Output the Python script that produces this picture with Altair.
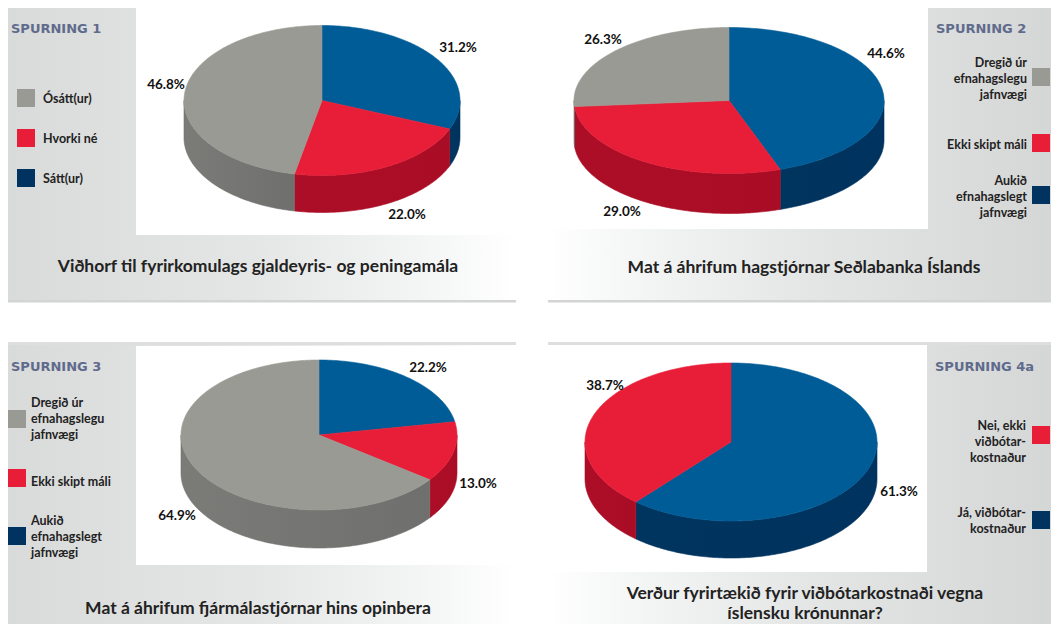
import math
import altair as alt
import pandas as pd

# ---- values ----
titles = [["Viðhorf til fyrirkomulags gjaldeyris- og peningamála"],
          ["Mat á áhrifum hagstjórnar Seðlabanka Íslands"],
          ["Mat á áhrifum fjármálastjórnar hins opinbera"],
          ["Verður fyrirtækið fyrir viðbótarkostnaði vegna", "íslensku krónunnar?"]]
questions = ["SPURNING 1", "SPURNING 2", "SPURNING 3", "SPURNING 4a"]
shares_1 = [31.2, 22.0, 46.8]
shares_2 = [44.6, 29.0, 26.3]
shares_3 = [22.2, 13.0, 64.9]
shares_4 = [61.3, 38.7]

legend_1 = [("gray", ["Ósátt(ur)"]), ("red", ["Hvorki né"]), ("blue", ["Sátt(ur)"])]
legend_2 = [("gray", ["Dregið úr", "efnahagslegu", "jafnvægi"]), ("red", ["Ekki skipt máli"]),
            ("blue", ["Aukið", "efnahagslegt", "jafnvægi"])]
legend_3 = legend_2
legend_4 = [("red", ["Nei, ekki", "viðbótar-", "kostnaður"]), ("blue", ["Já, viðbótar-", "kostnaður"])]

# ---- styling and layout ----
TOP = {"blue": "#005c97", "red": "#e81e38", "gray": "#9a9a94"}
SIDE = {"blue": ("#00335f", "#00355f"), "red": ("#a90d25", "#ad0e27"), "gray": ("#6f706d", "#7b7c78")}
SWATCH = {"blue": "#00335f", "red": "#e81e38", "gray": "#9a9a94"}
FONT = "Lato"

pies = [
    dict(shares=shares_1, cx=322, cy=100.5, rx=138, ry=75, d=37,
         pct=[(458, 47), (407, 214), (166, 84)]),
    dict(shares=shares_2, cx=729, cy=100.5, rx=155, ry=73, d=40,
         pct=[(886, 53), (622, 211), (603, 39)]),
    dict(shares=shares_3, cx=319, cy=435, rx=138, ry=75, d=38,
         pct=[(428, 367), (478, 483), (177, 515)]),
    dict(shares=shares_4, cx=731, cy=442, rx=146, ry=79, d=37,
         pct=[(899, 491), (605, 385)]),
]

BOTTOM = 624
RIGHT_EDGE = 1051
X = alt.Scale(domain=[8, RIGHT_EDGE], nice=False, zero=False)
Y = alt.Scale(domain=[BOTTOM, 8], nice=False, zero=False)


def xq(f):
    return alt.X(f, type="quantitative", scale=X, axis=None)


def yq(f):
    return alt.Y(f, type="quantitative", scale=Y, axis=None)


def box(x0, x1, y0, y1, color):
    df = pd.DataFrame({"x": [x0], "x2": [x1], "y": [y0], "y2": [y1]})
    return alt.Chart(df).mark_rect(color=color, strokeWidth=0).encode(
        x=xq("x"), x2="x2", y=yq("y"), y2="y2")


def grad(stops):
    return alt.Gradient(gradient="linear", x1=0, x2=1, y1=0, y2=0,
                        stops=[alt.GradientStop(offset=o, color=c) for o, c in stops])


layers = []

LEFT = [(0, "#d9dada"), (0.5, "#e5e6e6"), (0.8, "#f3f4f4"), (1, "#ffffff")]
RIGHT = [(0, "#ffffff"), (0.2, "#f3f4f4"), (0.5, "#e5e6e6"), (1, "#d5d6d6")]
panels = [
    (8, 516, 8, 300, LEFT, 136, 516, 8, 235, 301),
    (548, RIGHT_EDGE, 8, 300, RIGHT, 548, 928, 8, 229, 301),
    (8, 516, 345, BOTTOM, LEFT, 136, 516, 346, 565, None),
    (548, RIGHT_EDGE, 345, BOTTOM, RIGHT, 548, 927, 345, 572, None),
]
for x0, x1, y0, y1, stops, wx0, wx1, wy0, wy1, rule_y in panels:
    layers.append(box(x0, x1, y0, y1, grad(stops)))
    layers.append(box(wx0, wx1, wy0, wy1, "#ffffff"))
    if y0 > 8:
        layers.append(box(x0, x1, y0 - 3, y0, "#dededf"))
    if rule_y:
        layers.append(box(x0, x1, rule_y - 1, rule_y + 1.5, "#d3d4d4"))


def arc_points(a0, a1, step=1.0):
    n = max(2, int(abs(a1 - a0) / step) + 1)
    return [a0 + (a1 - a0) * i / n for i in range(n + 1)]


def polygon(points, fill, stroke):
    df = pd.DataFrame(points, columns=["x", "y"])
    df["i"] = range(len(df))
    return alt.Chart(df).mark_line(fill=fill, stroke=stroke, strokeWidth=0.6,
                                   interpolate="linear").encode(
        x=xq("x"), y=yq("y"), order=alt.Order("i:Q"))


text_rows = []
for p in pies:
    cx, cy, rx, ry, d = p["cx"], p["cy"], p["rx"], p["ry"], p["d"]
    total = sum(p["shares"])
    kinds_here = ["blue", "red", "gray"] if len(p["shares"]) == 3 else ["blue", "red"]

    def pt(angle, dy=0):
        t = math.radians(angle)
        return (cx + rx * math.sin(t), cy - ry * math.cos(t) + dy)

    start = 0.0
    wedges = []
    for v, k in zip(p["shares"], kinds_here):
        end = start + 360 * v / total
        wedges.append((start, end, k))
        start = end
    # sides first, only the part that faces the viewer
    for a0, a1, k in wedges:
        lo, hi = max(a0, 90), min(a1, 270)
        if hi > lo:
            arc = [pt(a) for a in arc_points(lo, hi)]
            under = [pt(a, d) for a in arc_points(hi, lo)]
            c0, c1 = SIDE[k]
            layers.append(polygon(arc + under + [arc[0]], grad([(0, c1), (1, c0)]), c0))
    for a0, a1, k in wedges:
        pts = [(cx, cy)] + [pt(a) for a in arc_points(a0, a1)] + [(cx, cy)]
        layers.append(polygon(pts, TOP[k], TOP[k]))
    for v, (px, py) in zip(p["shares"], p["pct"]):
        text_rows.append({"x": px, "y": py, "t": f"{v:.1f}%"})

layers.append(alt.Chart(pd.DataFrame(text_rows)).mark_text(
    font=FONT, fontWeight="bold", fontSize=13.5, color="#111111", align="center", baseline="middle", dy=1
).encode(x=xq("x"), y=yq("y"), text="t:N"))

# question headers
head = pd.DataFrame({"x": [11, 936, 11, 935], "y": [28, 28, 366, 366], "t": questions})
layers.append(alt.Chart(head).mark_text(
    font="DejaVu Sans", fontWeight="bold", fontSize=13, color="#5f6b8c", align="left", baseline="middle", dy=1
).encode(x=xq("x"), y=yq("y"), text="t:N"))

# panel titles
title_pos = [[(258, 266)], [(804, 267)], [(258, 608)], [(805, 593), (805, 613)]]
title_rows = [{"x": x, "y": y, "t": line}
              for lines, pos in zip(titles, title_pos) for line, (x, y) in zip(lines, pos)]
layers.append(alt.Chart(pd.DataFrame(title_rows)).mark_text(
    font=FONT, fontWeight="bold", fontSize=17.5, color="#222222", align="center", baseline="middle", dy=1
).encode(x=xq("x"), y=yq("y"), text="t:N"))

# legends
legends = [
    (legend_1, 17, 43, "left", [98, 138, 178], [[98], [138], [178]]),
    (legend_2, 1032, 1027, "right", [77, 143, 195], [[62, 78, 94], [144], [180, 196, 212]]),
    (legend_3, 8, 31, "left", [419, 478, 536], [[402, 418, 434], [481], [520, 536, 552]]),
    (legend_4, 1032, 1026, "right", [435, 520], [[425, 441, 457], [512, 528]]),
]
for entries, sx, tx, align, swatch_y, line_y in legends:
    rows = []
    for (k, lines), sy, ly in zip(entries, swatch_y, line_y):
        layers.append(box(sx, sx + 18, sy - 9, sy + 9, SWATCH[k]))
        rows += [{"x": tx, "y": y, "t": s} for s, y in zip(lines, ly)]
    layers.append(alt.Chart(pd.DataFrame(rows)).mark_text(
        font=FONT, fontWeight="bold", fontSize=12.5, color="#222222", align=align, baseline="middle", dy=1
    ).encode(x=xq("x"), y=yq("y"), text="t:N"))

chart = alt.layer(*layers).properties(
    width=RIGHT_EDGE - 8, height=BOTTOM - 8, padding=0, background="#ffffff",
    autosize=alt.AutoSizeParams(type="none"),
).configure_view(stroke=None)

chart.save("out.html", embed_options={"renderer": "svg", "actions": False})
